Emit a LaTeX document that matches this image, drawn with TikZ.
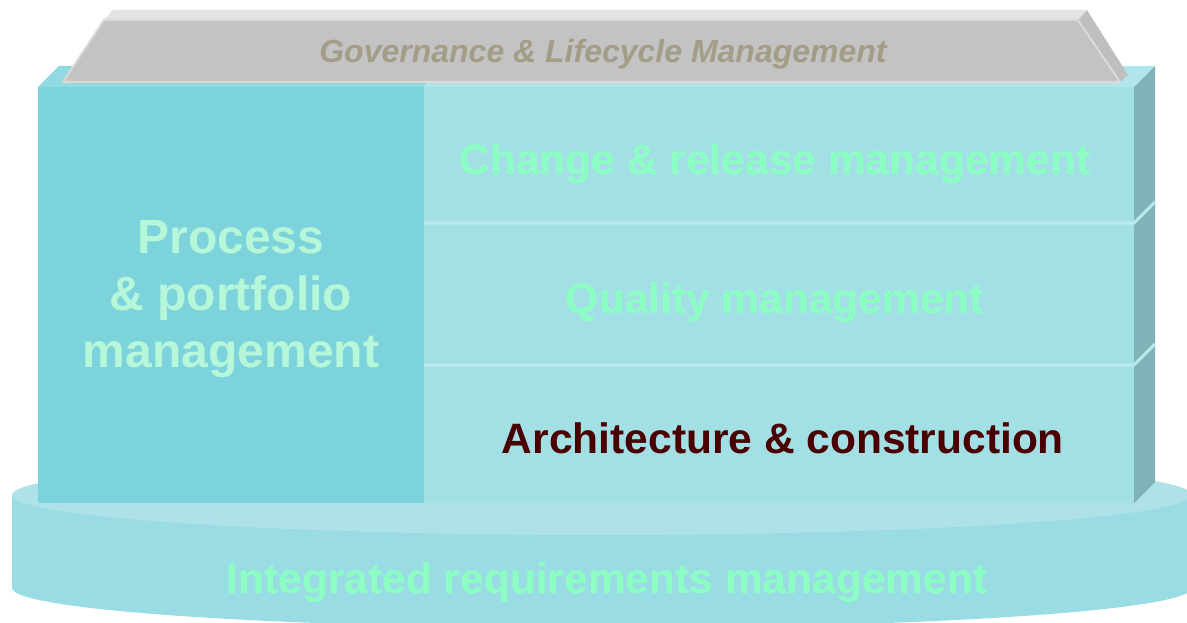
\documentclass[tikz,border=0pt]{standalone}
\usepackage{fontspec}
\setmainfont{Liberation Sans}
\definecolor{discside}{HTML}{99DCE3}
\definecolor{disctop}{HTML}{AEE2E8}
\definecolor{leftfront}{HTML}{7DD3DC}
\definecolor{rightfront}{HTML}{A3E0E6}
\definecolor{topleft}{HTML}{92DAE1}
\definecolor{topright}{HTML}{B0E5EA}
\definecolor{sideface}{HTML}{80B3B8}
\definecolor{sepline}{HTML}{B8E9ED}
\definecolor{rooffront}{HTML}{C3C3C3}
\definecolor{rooftop}{HTML}{E3E3E3}
\definecolor{roofside}{HTML}{BFBFBF}
\definecolor{roofedge}{HTML}{DADADA}
\definecolor{rooftext}{HTML}{A39D88}
\definecolor{greentext}{HTML}{8CFFC2}
\definecolor{palegreen}{HTML}{B5F7D8}
\definecolor{maroon}{HTML}{4A0000}
\tikzset{
  lbl/.style={font=\bfseries\fontsize{42.5}{48}\selectfont, text=greentext, inner sep=0pt, anchor=base},
  roofedgeline/.style={draw=roofedge, line width=2pt, line join=round},
}
\begin{document}
\begin{tikzpicture}[x=1pt,y=-1pt]
\useasboundingbox (0,0) rectangle (1187,623);
% disc
\fill[discside] (602,588) ellipse[x radius=590, y radius=40];
\fill[discside] (12,495) rectangle (1192,588);
\fill[disctop] (602,495) ellipse[x radius=590, y radius=40];
% box
\fill[leftfront] (38,87) rectangle (424,503);
\fill[rightfront] (424,87) rectangle (1134,503);
\fill[topleft] (38,87) -- (59,66) -- (445,66) -- (424,87) -- cycle;
\fill[topright] (424,87) -- (445,66) -- (1155,66) -- (1134,87) -- cycle;
\fill[sideface] (1134,87) -- (1155,66) -- (1155,482) -- (1134,503) -- cycle;
\draw[sepline, line width=3pt] (424,223) -- (1134,223) -- (1155,202);
\draw[sepline, line width=3pt] (424,365) -- (1134,365) -- (1155,344);
% roof
\fill[rooffront] (63,82) -- (104,20) -- (1078,20) -- (1120,82) -- cycle;
\fill[rooftop] (104,20) -- (113,10) -- (1087,10) -- (1078,20) -- cycle;
\fill[roofside] (1078,20) -- (1087,10) -- (1128,75) -- (1120,82) -- cycle;
\draw[roofedgeline] (1120,82) -- (63,82) -- (104,20) -- (1078,20) -- (1120,82);
% texts
\node[font=\bfseries\itshape\fontsize{32}{36}\selectfont, text=rooftext, inner sep=0pt, anchor=base] (gov) at (603,63) {Governance \& Lifecycle Management};
\node[lbl] (chg) at (775,175) {Change \& release management};
\node[lbl] (qual) at (775,313) {Quality management};
\node[lbl, text=maroon] (arch) at (783,453) {Architecture \& construction};
\node[lbl] (req) at (607,593) {Integrated requirements management};
\node[font=\bfseries\fontsize{48}{57}\selectfont, text=palegreen, align=center, inner sep=0pt, anchor=base] (proc) at (231,367) {Process\\\& portfolio\\management};
\end{tikzpicture}
\end{document}
